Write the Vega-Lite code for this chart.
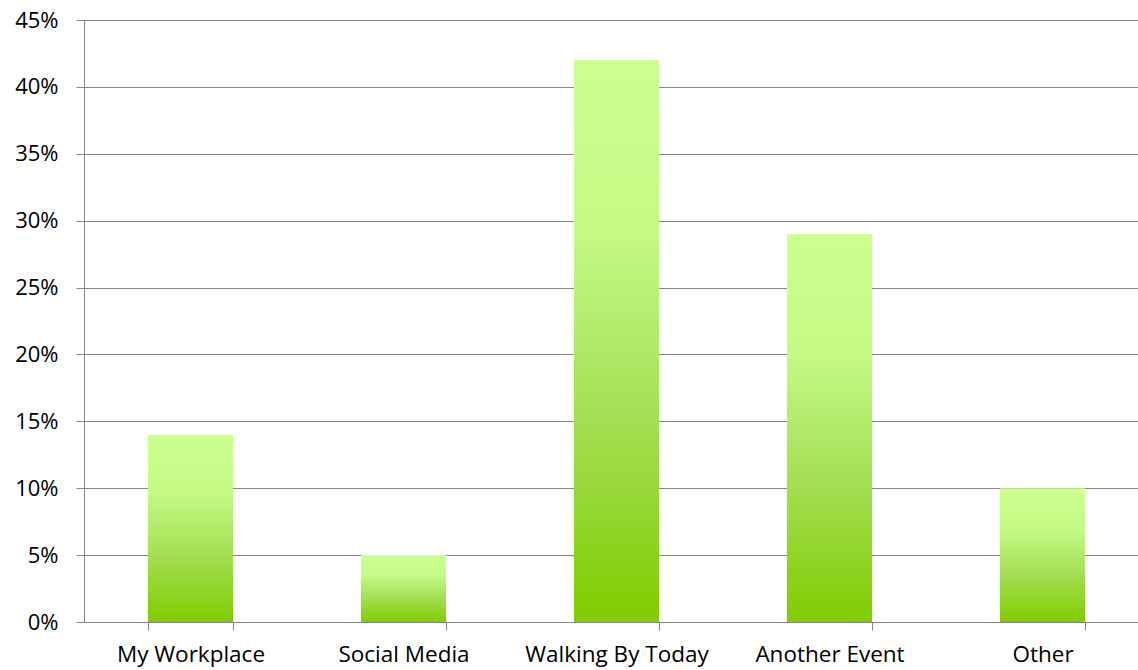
{
  "$schema": "https://vega.github.io/schema/vega-lite/v6.json",
  "autosize": {"type": "none"},
  "width": 1054,
  "height": 602,
  "padding": {"left": 84, "top": 20, "right": 0, "bottom": 48},
  "background": "white",
  "config": {"view": {"stroke": null}},
  "data": {"values": [
    {"category": "My Workplace", "share": 0.14},
    {"category": "Social Media", "share": 0.05},
    {"category": "Walking By Today", "share": 0.42},
    {"category": "Another Event", "share": 0.29},
    {"category": "Other", "share": 0.10}
  ]},
  "mark": {
    "type": "bar",
    "color": {
      "gradient": "linear", "x1": 0, "y1": 0, "x2": 0, "y2": 1,
      "stops": [
        {"offset": 0, "color": "#ccff90"},
        {"offset": 0.3, "color": "#c5fa86"},
        {"offset": 0.65, "color": "#a2de52"},
        {"offset": 1, "color": "#80cc00"}
      ]
    }
  },
  "encoding": {
    "x": {
      "field": "category", "type": "nominal", "sort": null,
      "scale": {"range": [0, 1065], "paddingInner": 0.6, "paddingOuter": 0.3},
      "axis": {
        "title": null, "labelAngle": 0, "tickBand": "extent",
        "domainColor": "#868686", "tickColor": "#868686", "tickSize": 8,
        "labelFont": "Open Sans", "labelFontSize": 22.5, "labelColor": "#000000",
        "labelPadding": 13, "labelLimit": 400, "labelOverlap": false, "grid": false
      }
    },
    "y": {
      "field": "share", "type": "quantitative",
      "scale": {"domain": [0, 0.45]},
      "axis": {
        "title": null, "format": ".0%", "values": [0, 0.05, 0.1, 0.15, 0.2, 0.25, 0.3, 0.35, 0.4, 0.45],
        "domainColor": "#868686", "tickColor": "#868686", "tickSize": 8,
        "gridColor": "#868686", "gridOpacity": 1,
        "labelFont": "Open Sans", "labelFontSize": 22, "labelColor": "#000000",
        "labelPadding": 18
      }
    }
  }
}
